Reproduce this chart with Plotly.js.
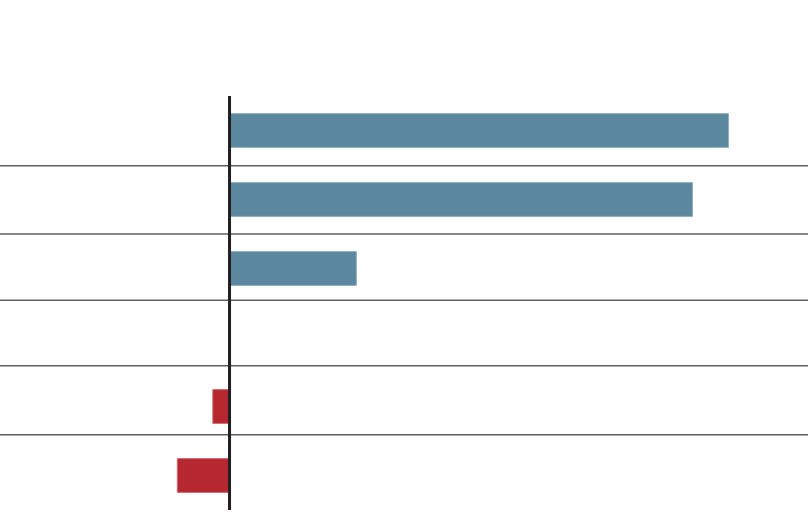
<!DOCTYPE html>
<html>
<head>
<meta charset="utf-8">
<script src="https://cdn.plot.ly/plotly-3.0.1.min.js"></script>
<style>
  html, body { margin: 0; padding: 0; background: #ffffff; }
  #chart { width: 808px; height: 520px; }
</style>
</head>
<body>
<div id="chart"></div>
<script>
// Data (no labels are shown in the reference)
const categories = ["Item 1", "Item 2", "Item 3", "Item 4", "Item 5", "Item 6"];
const values = [9.56, 8.87, 2.43, -0.01, -0.32, -1.0];

const posColor = "#5b889e";
const negColor = "#b5282f";
const posEdge = "#8fb0c0";
const negEdge = "#d06a70";

const barColors = values.map(v => v >= 0 ? posColor : negColor);
const edgeColors = values.map(v => v >= 0 ? posEdge : negEdge);

const trace = {
  type: "bar",
  orientation: "h",
  x: values,
  y: categories,
  width: 0.49,
  marker: { color: barColors, line: { color: edgeColors, width: 1 } },
  hoverinfo: "x+y",
  showlegend: false
};

// separator lines between categories (positions in category index units)
const sepPositions = [0.51, 1.5, 2.46, 3.41, 4.41];
const shapes = sepPositions.map(p => ({
  type: "line", xref: "paper", yref: "y",
  x0: 0, x1: 1, y0: p, y1: p,
  line: { color: "#5e5e5e", width: 1.5 },
  layer: "below"
}));
// vertical zero axis line
shapes.push({
  type: "line", xref: "x", yref: "paper",
  x0: 0, x1: 0, y0: 0, y1: 1,
  line: { color: "#231f20", width: 3 },
  layer: "above"
});

const layout = {
  width: 808, height: 520,
  margin: { l: 0, r: 0, t: 96, b: 10, pad: 0 },
  paper_bgcolor: "#ffffff",
  plot_bgcolor: "#ffffff",
  xaxis: {
    range: [-4.397, 11.082],
    showgrid: false, zeroline: false, showticklabels: false,
    showline: false, ticks: ""
  },
  yaxis: {
    type: "category",
    categoryorder: "array", categoryarray: categories,
    range: [5.5, -0.5],
    showgrid: false, zeroline: false, showticklabels: false,
    showline: false, ticks: ""
  },
  shapes: shapes,
  bargap: 0
};

Plotly.newPlot("chart", [trace], layout, { displayModeBar: false, staticPlot: true });
</script>
</body>
</html>
